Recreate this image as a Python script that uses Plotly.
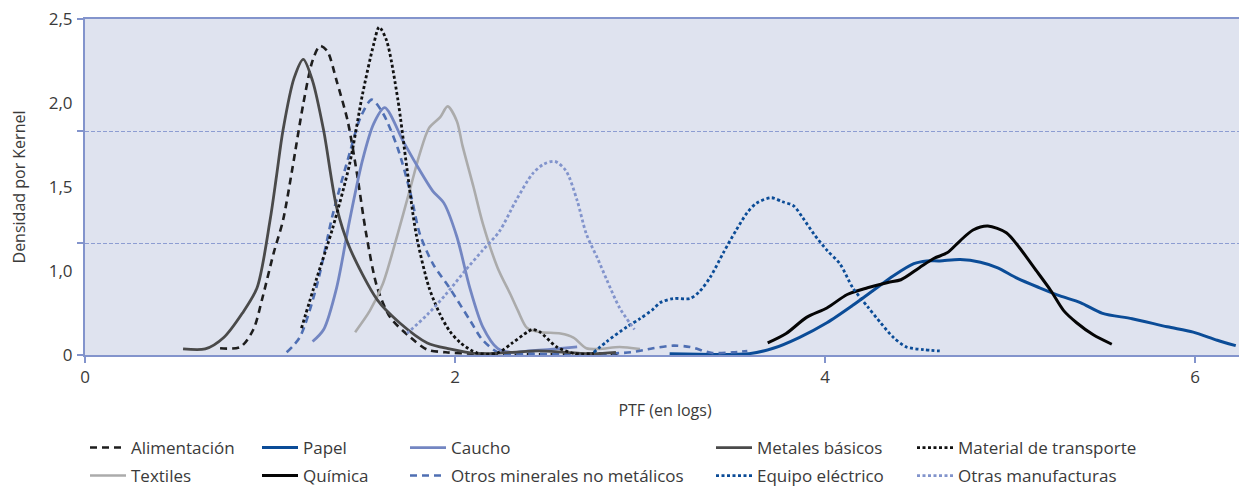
import plotly.graph_objects as go

# ---------------- data ----------------
alimentacion_x = [0.73, 0.84, 0.91, 0.96, 1.02, 1.07, 1.12, 1.18, 1.23, 1.27, 1.31, 1.36, 1.42, 1.47, 1.52, 1.58, 1.65, 1.76, 1.85, 1.95, 2.10, 2.30, 2.50, 2.70, 2.90]
alimentacion_y = [0.05, 0.06, 0.19, 0.43, 0.76, 1.00, 1.38, 1.87, 2.19, 2.30, 2.26, 2.04, 1.74, 1.35, 0.90, 0.50, 0.28, 0.13, 0.04, 0.02, 0.01, 0.01, 0.005, 0.01, 0.01]

textiles_x = [1.46, 1.54, 1.61, 1.69, 1.76, 1.81, 1.86, 1.92, 1.96, 2.01, 2.04, 2.10, 2.15, 2.23, 2.30, 2.34, 2.39, 2.46, 2.57, 2.64, 2.71, 2.78, 2.89, 3.00]
textiles_y = [0.17, 0.33, 0.53, 0.90, 1.25, 1.50, 1.69, 1.77, 1.85, 1.74, 1.56, 1.25, 0.98, 0.65, 0.45, 0.33, 0.20, 0.17, 0.16, 0.13, 0.05, 0.045, 0.06, 0.045]

papel_x = [3.16, 3.59, 3.72, 3.86, 4.01, 4.15, 4.26, 4.37, 4.48, 4.55, 4.62, 4.73, 4.84, 4.93, 5.04, 5.16, 5.27, 5.38, 5.50, 5.66, 5.85, 5.99, 6.12, 6.22]
papel_y = [0.01, 0.01, 0.05, 0.13, 0.24, 0.37, 0.48, 0.59, 0.68, 0.70, 0.70, 0.71, 0.69, 0.65, 0.57, 0.50, 0.44, 0.39, 0.31, 0.27, 0.21, 0.17, 0.11, 0.07]

quimica_x = [3.69, 3.79, 3.90, 4.01, 4.12, 4.23, 4.34, 4.41, 4.51, 4.59, 4.66, 4.73, 4.80, 4.88, 4.98, 5.05, 5.13, 5.22, 5.29, 5.36, 5.45, 5.55]
quimica_y = [0.09, 0.16, 0.28, 0.35, 0.45, 0.50, 0.54, 0.56, 0.65, 0.72, 0.76, 0.85, 0.93, 0.96, 0.91, 0.80, 0.65, 0.48, 0.33, 0.24, 0.15, 0.08]

caucho_x = [1.23, 1.29, 1.36, 1.43, 1.50, 1.56, 1.62, 1.72, 1.79, 1.88, 1.94, 2.01, 2.08, 2.15, 2.23, 2.30, 2.40, 2.50, 2.66]
caucho_y = [0.10, 0.19, 0.50, 1.00, 1.45, 1.72, 1.84, 1.59, 1.42, 1.22, 1.13, 0.88, 0.50, 0.21, 0.05, 0.02, 0.03, 0.04, 0.06]

otros_min_x = [1.09, 1.16, 1.25, 1.34, 1.43, 1.49, 1.55, 1.61, 1.69, 1.76, 1.81, 1.88, 1.97, 2.08, 2.15, 2.24, 2.40, 2.60, 2.80, 2.95, 3.07, 3.18, 3.27, 3.39, 3.50, 3.58]
otros_min_y = [0.02, 0.13, 0.50, 1.05, 1.50, 1.77, 1.90, 1.80, 1.54, 1.20, 0.90, 0.68, 0.50, 0.26, 0.11, 0.015, 0.01, 0.005, 0.01, 0.02, 0.05, 0.07, 0.06, 0.015, 0.02, 0.03]

metales_x = [0.53, 0.65, 0.75, 0.85, 0.93, 1.00, 1.035, 1.07, 1.13, 1.18, 1.23, 1.29, 1.36, 1.43, 1.58, 1.70, 1.85, 1.97, 2.12, 2.30, 2.45, 2.60, 2.75, 2.87]
metales_y = [0.045, 0.045, 0.13, 0.31, 0.50, 1.00, 1.33, 1.67, 2.06, 2.20, 2.04, 1.67, 1.10, 0.80, 0.41, 0.24, 0.09, 0.045, 0.01, 0.02, 0.03, 0.02, 0.01, 0.02]

equipo_x = [2.75, 2.82, 2.93, 3.00, 3.07, 3.11, 3.18, 3.27, 3.32, 3.38, 3.45, 3.52, 3.58, 3.63, 3.71, 3.77, 3.83, 3.88, 3.94, 4.01, 4.08, 4.15, 4.23, 4.30, 4.37, 4.44, 4.53, 4.62]
equipo_y = [0.02, 0.10, 0.21, 0.27, 0.34, 0.39, 0.42, 0.42, 0.47, 0.58, 0.76, 0.93, 1.06, 1.13, 1.17, 1.14, 1.11, 1.02, 0.90, 0.78, 0.68, 0.50, 0.36, 0.24, 0.13, 0.06, 0.04, 0.03]

transporte_x = [1.17, 1.25, 1.34, 1.43, 1.50, 1.56, 1.59, 1.63, 1.69, 1.74, 1.79, 1.86, 1.92, 1.97, 2.03, 2.12, 2.23, 2.31, 2.39, 2.42, 2.46, 2.55, 2.65, 2.75]
transporte_y = [0.20, 0.56, 0.95, 1.42, 1.94, 2.31, 2.44, 2.34, 1.91, 1.39, 0.90, 0.50, 0.30, 0.18, 0.09, 0.015, 0.015, 0.09, 0.17, 0.19, 0.17, 0.06, 0.01, 0.01]

otras_manuf_x = [1.74, 1.85, 1.95, 2.05, 2.15, 2.24, 2.33, 2.42, 2.48, 2.54, 2.60, 2.66, 2.71, 2.77, 2.82, 2.89, 2.97]
otras_manuf_y = [0.16, 0.30, 0.45, 0.62, 0.78, 0.92, 1.15, 1.35, 1.42, 1.44, 1.37, 1.15, 0.90, 0.72, 0.56, 0.35, 0.19]

# y-axis label text and where it sits; x ticks
y_label_pos = [0, 0.625, 1.25, 1.875, 2.5]
y_label_text = ["0", "1,0", "1,5", "2,0", "2,5"]
y_major = [0, 2.5 / 3, 5 / 3, 2.5]
x_ticks = [0, 2, 4, 6]

# ---------------- styling ----------------
FONT = "Open Sans"
TXT = "#3a3a3a"
AXC = "#8394cc"
GRIDC = "#8d9dd2"
BG = "#dfe3ef"

series = [
    ("Alimentación", alimentacion_x, alimentacion_y, "#1e1e1e", "7px,5px", 2.6, "legend"),
    ("Textiles", textiles_x, textiles_y, "#ababab", "solid", 2.6, "legend2"),
    ("Papel", papel_x, papel_y, "#0b4c97", "solid", 3.0, "legend3"),
    ("Química", quimica_x, quimica_y, "#050505", "solid", 3.0, "legend4"),
    ("Caucho", caucho_x, caucho_y, "#7386c2", "solid", 2.8, "legend5"),
    ("Otros minerales no metálicos", otros_min_x, otros_min_y, "#4f6fb3", "7px,5px", 2.6, "legend6"),
    ("Metales básicos", metales_x, metales_y, "#4a4a4a", "solid", 2.8, "legend7"),
    ("Equipo eléctrico", equipo_x, equipo_y, "#0b4c97", "3px,2.5px", 2.8, "legend8"),
    ("Material de transporte", transporte_x, transporte_y, "#111111", "3px,2.5px", 2.8, "legend9"),
    ("Otras manufacturas", otras_manuf_x, otras_manuf_y, "#8294cc", "3px,2.5px", 2.8, "legend10"),
]

fig = go.Figure()
for name, xs, ys, col, dash, w, lg in series:
    fig.add_trace(go.Scatter(
        x=xs, y=ys, name=name, mode="lines",
        line=dict(color=col, width=w, dash=dash, shape="spline", smoothing=0.8),
        legend=lg, showlegend=True,
    ))

# invisible trace on the label axis
fig.add_trace(go.Scatter(x=[0], y=[0], yaxis="y2", mode="lines",
                         line=dict(width=0), showlegend=False, hoverinfo="skip"))

# page body has an 8px margin: figure sits at (8, 8) in the window
OFF = 8
W, H = 1239, 478
L, T = 85 - OFF, 19 - OFF
plot_right, plot_bottom = 1245 - OFF, 355 - OFF
R, B = W - plot_right, H - plot_bottom
pw, ph = plot_right - L, plot_bottom - T

legend_cols_px = [85, 257, 405, 711, 912]   # window pixels (legend origin)
legend_rows_px = [448, 476]
legend_layout = {}
k = 0
for c in range(5):
    for r in range(2):
        k += 1
        key = "legend" if k == 1 else f"legend{k}"
        legend_layout[key] = dict(
            x=(legend_cols_px[c] - OFF - L) / pw,
            y=(plot_bottom - (legend_rows_px[r] - OFF)) / ph,
            xanchor="left", yanchor="middle",
            bgcolor="rgba(0,0,0,0)", borderwidth=0,
            font=dict(family=FONT, size=17, color=TXT),
            itemwidth=36, orientation="v",
        )

fig.update_layout(
    width=W, height=H,
    margin=dict(l=L, r=R, t=T, b=B, autoexpand=False),
    paper_bgcolor="white", plot_bgcolor=BG,
    font=dict(family=FONT, size=17, color=TXT),
    xaxis=dict(
        range=[0, 6.27], tickvals=x_ticks, ticktext=[str(v) for v in x_ticks],
        showgrid=False, zeroline=False, automargin=False, ticklabeloverflow="allow",
        showline=True, linecolor=AXC, linewidth=2, mirror=True,
        ticks="outside", ticklen=6, tickcolor=AXC, tickwidth=1.5,
        tickfont=dict(family=FONT, size=17, color=TXT),
        title=dict(text="PTF (en logs)", font=dict(family=FONT, size=16, color=TXT), standoff=17),
    ),
    yaxis=dict(
        range=[0, 2.5], tickvals=y_major, showticklabels=False, automargin=False,
        showgrid=True, gridcolor=GRIDC, gridwidth=1.2, griddash="4px,2px",
        zeroline=False, showline=True, linecolor=AXC, linewidth=2,
        ticks="outside", ticklen=6, tickcolor=AXC, tickwidth=1.5,
    ),
    yaxis2=dict(
        range=[0, 2.5], overlaying="y", side="left", automargin=False,
        ticklabeloverflow="allow",
        tickvals=y_label_pos, ticktext=y_label_text,
        showgrid=False, zeroline=False, showline=False,
        ticks="outside", ticklen=8, tickcolor="rgba(0,0,0,0)",
        tickfont=dict(family=FONT, size=17, color=TXT),
        title=dict(text="Densidad por Kernel", font=dict(family=FONT, size=16, color=TXT), standoff=26),
    ),
    **legend_layout,
)

fig.write_html("out.html")
